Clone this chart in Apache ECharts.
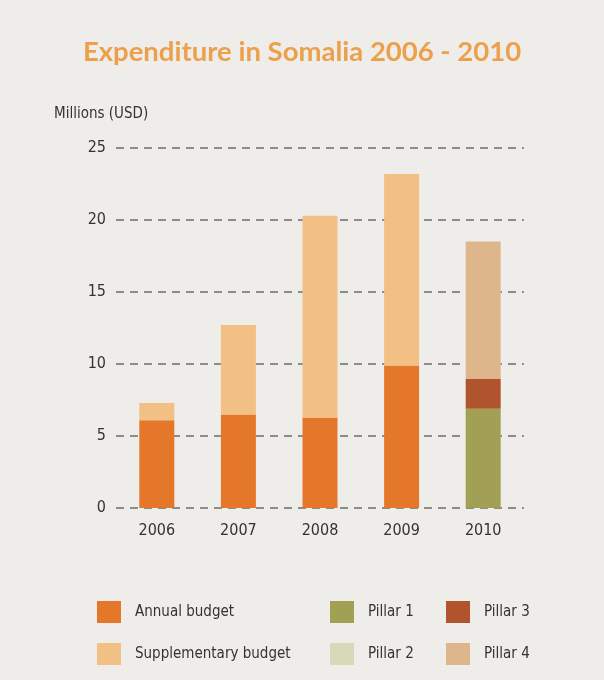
<!DOCTYPE html>
<html>
<head>
<meta charset="utf-8">
<script src="https://cdn.jsdelivr.net/npm/echarts@6/dist/echarts.min.js"></script>
<style>
  html, body { margin: 0; padding: 0; background: #efedea; }
  #chart { width: 604px; height: 680px; }
</style>
</head>
<body>
<div id="chart"></div>
<script>
const years = ['2006', '2007', '2008', '2009', '2010'];
const annualBudget = [6.1, 6.5, 6.25, 9.9, null];
const supplementaryBudget = [1.2, 6.2, 14.05, 13.3, null];
const pillar1 = [null, null, null, null, 6.9];
const pillar2 = [null, null, null, null, 0];
const pillar3 = [null, null, null, null, 2.05];
const pillar4 = [null, null, null, null, 9.55];

const font = '"DejaVu Sans Condensed", Roboto, sans-serif';
const textColor = '#333';

const chart = echarts.init(document.getElementById('chart'));

const bar = (name, data, color) => ({
  name,
  type: 'bar',
  stack: 'total',
  barWidth: 35,
  data,
  itemStyle: { color }
});

const legendBase = {
  orient: 'vertical',
  top: 601,
  padding: 0,
  icon: 'rect',
  itemWidth: 24,
  itemHeight: 22,
  itemGap: 20,
  selectedMode: false,
  textStyle: { fontFamily: font, fontSize: 15, color: textColor, padding: [0, 0, 0, 9] }
};

const option = {
  backgroundColor: '#efedea',
  title: {
    text: 'Expenditure in Somalia 2006 - 2010',
    left: 'center',
    top: 33,
    textStyle: { fontFamily: 'Lato', fontWeight: 'bold', fontSize: 27.5, color: '#eca04b' }
  },
  graphic: [{
    type: 'text',
    left: 54,
    top: 107,
    style: { text: 'Millions (USD)', font: '15px ' + font, fill: textColor }
  }],
  legend: [
    Object.assign({}, legendBase, { left: 97, data: ['Annual budget', 'Supplementary budget'] }),
    Object.assign({}, legendBase, { left: 330, data: ['Pillar 1', 'Pillar 2'] }),
    Object.assign({}, legendBase, { left: 446, data: ['Pillar 3', 'Pillar 4'] })
  ],
  grid: { left: 116, right: 80, top: 148, bottom: 172 },
  xAxis: {
    type: 'category',
    data: years,
    axisLine: { show: false },
    axisTick: { show: false },
    axisLabel: { fontFamily: font, fontSize: 16, color: textColor, margin: 15 }
  },
  yAxis: {
    type: 'value',
    min: 0,
    max: 25,
    interval: 5,
    axisLabel: { fontFamily: font, fontSize: 16, color: textColor, margin: 10 },
    splitLine: { lineStyle: { type: [8, 6], color: '#8c8c8c', width: 2 } }
  },
  series: [
    bar('Annual budget', annualBudget, '#e5772a'),
    bar('Supplementary budget', supplementaryBudget, '#f2c084'),
    bar('Pillar 1', pillar1, '#a2a055'),
    bar('Pillar 2', pillar2, '#d6dab9'),
    bar('Pillar 3', pillar3, '#b0542d'),
    bar('Pillar 4', pillar4, '#ddb68b')
  ]
};

chart.setOption(option);
</script>
</body>
</html>
